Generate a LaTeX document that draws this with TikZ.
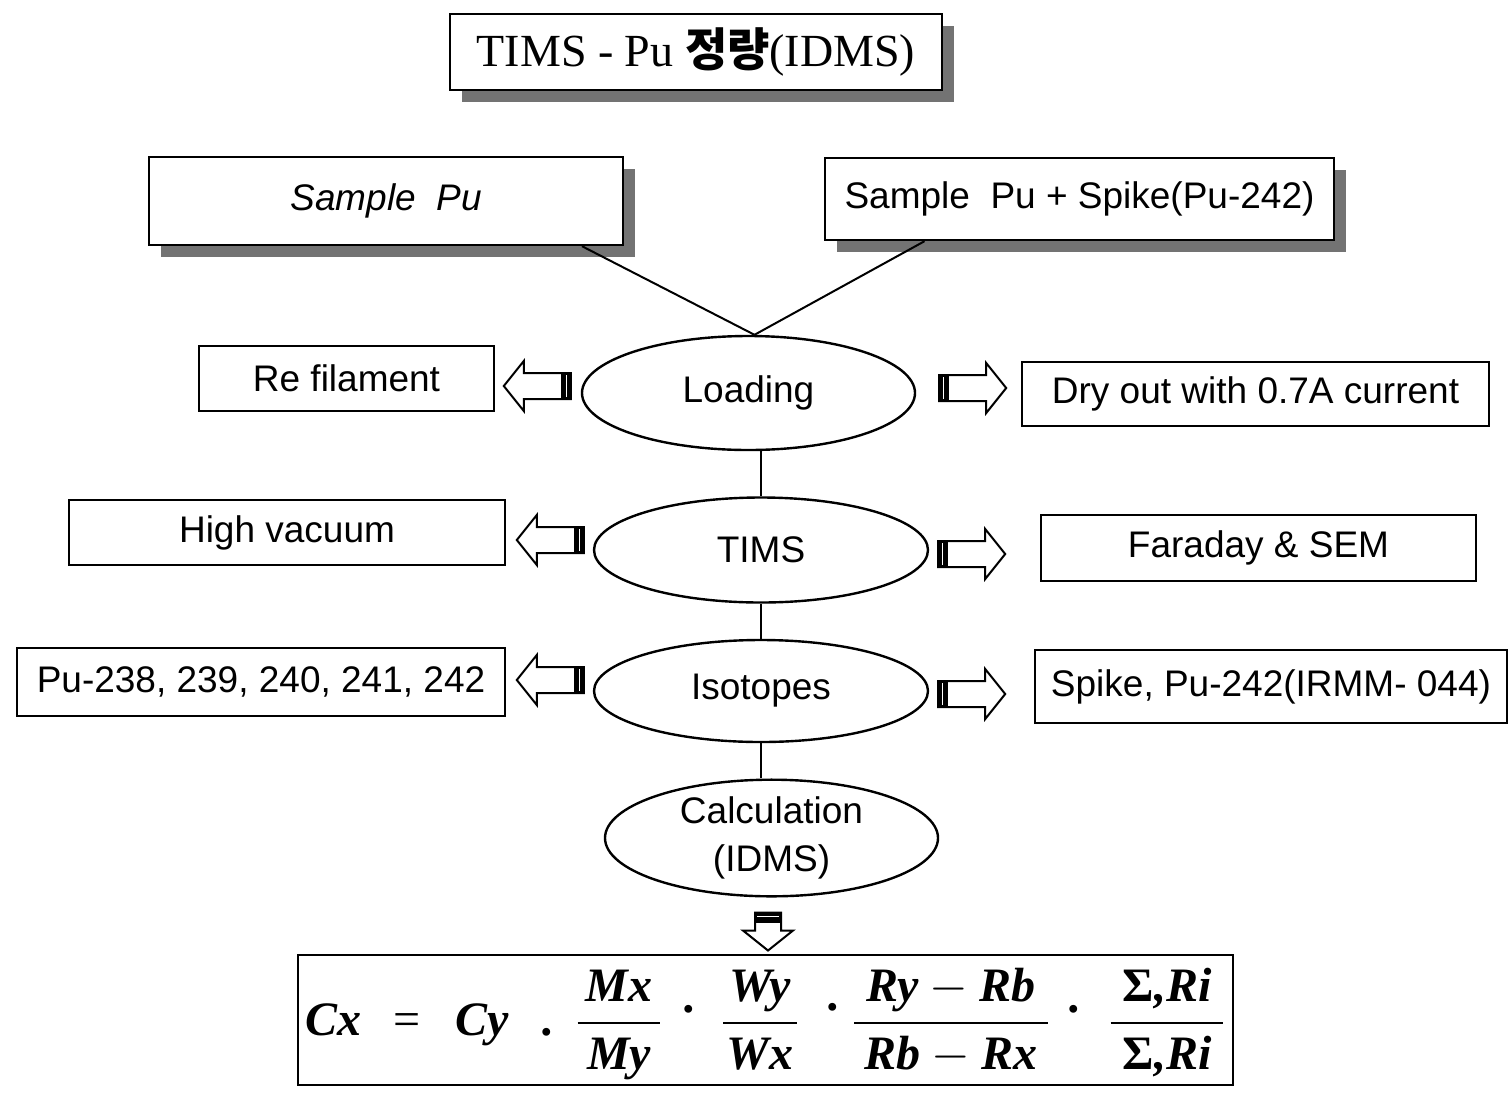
\documentclass[tikz,border=0pt]{standalone}
\usepackage{amsmath}
\usepackage{fontspec}
\setmainfont{Liberation Serif}
\setsansfont{Liberation Sans}
\newfontfamily\korfont{Noto Sans CJK KR}
\usetikzlibrary{shapes.geometric,shadows,calc,positioning}

\newcommand{\fv}[1]{\text{\bfseries\itshape #1}}

\tikzset{
  stepbox/.style={draw, line width=1.2pt, fill=white, inner sep=0pt,
    font=\sffamily\fontsize{18.5}{22}\selectfont},
  shadowbox/.style={stepbox, drop shadow={shadow xshift=6pt, shadow yshift=-6pt,
    fill=black!55, opacity=1}},
  stage/.style={draw, ellipse, line width=1.2pt, inner sep=0pt, align=center,
    font=\sffamily\fontsize{18.5}{24}\selectfont},
  link/.style={line width=1pt},
  formula/.style={inner sep=0pt, font=\rmfamily\bfseries\itshape\fontsize{24}{28}\selectfont},
  pics/barrow/.style={code={
    \draw[line width=1pt, fill=white] (0,-13) -- (#1-20,-13) -- (#1-20,-25) -- (#1,0)
      -- (#1-20,25) -- (#1-20,13) -- (0,13) -- cycle;
    \fill (0,-13) rectangle (10,13);
    \draw[white, line width=0.6pt] (4,-11) -- (4,11);
  }},
  pics/barrow/.default=67
}

\begin{document}
\begin{tikzpicture}[x=0.5pt, y=-0.5pt]
  \useasboundingbox (0,0) rectangle (1509,1098);

  % title and samples
  \node[shadowbox, minimum width=246pt, minimum height=38pt,
        font=\rmfamily\fontsize{23}{26}\selectfont] (title) at (696,52)
        {TIMS - Pu {\korfont\bfseries 정량}(IDMS)};
  \node[shadowbox, minimum width=237pt, minimum height=44pt] (samplepu) at (386,201)
        {\itshape Sample\ \ Pu};
  \node[shadowbox, minimum width=254.5pt, minimum height=41pt] (spikesample) at (1079.5,199)
        {Sample\ \ Pu + Spike(Pu-242)};

  % stages
  \node[stage, minimum width=166.5pt, minimum height=57pt] (loading) at (748.5,393) {Loading};
  \node[stage, minimum width=167pt, minimum height=52.5pt] (tims) at (761,550) {TIMS};
  \node[stage, minimum width=167pt, minimum height=51pt] (isotopes) at (761,691) {Isotopes};
  \node[stage, minimum width=166.5pt, minimum height=55pt] (calc) at (771.5,838)
        {Calculation\\(IDMS)};

  % side boxes
  \node[stepbox, minimum width=147.5pt, minimum height=32.5pt] (refil) at (346.5,378.5) {Re filament};
  \node[stepbox, minimum width=233.5pt, minimum height=32pt] (dryout) at (1255.5,394) {Dry out with 0.7A current};
  \node[stepbox, minimum width=218pt, minimum height=32.5pt] (vacuum) at (287,532.5) {High vacuum};
  \node[stepbox, minimum width=217.5pt, minimum height=33pt] (faraday) at (1258.5,548) {Faraday \& SEM};
  \node[stepbox, minimum width=244pt, minimum height=34pt] (pulist) at (261,682) {Pu-238, 239, 240, 241, 242};
  \node[stepbox, minimum width=236pt, minimum height=36.5pt] (spike) at (1271,686.5) {Spike, Pu-242(IRMM- 044)};

  % links
  \draw[link] ($(samplepu.south)+(196,0)$) -- ($(loading.north)+(6,0)$);
  \draw[link] ($(spikesample.south)+(-155,0)$) -- ($(loading.north)+(6,0)$);
  \draw[link] (tims.north) -- (tims.north |- loading.south);
  \draw[link] (isotopes.north) -- (tims.south);
  \draw[link] (isotopes.south) -- (isotopes.south |- calc.north);

  % block arrows
  \pic[rotate=180] at ($(loading.west)+(-10,-7)$) {barrow};
  \pic at ($(loading.east)+(23,-5)$) {barrow};
  \pic[rotate=180] at ($(tims.west)+(-9,-10)$) {barrow};
  \pic at ($(tims.east)+(9,4)$) {barrow};
  \pic[rotate=180] at ($(isotopes.west)+(-9,-11)$) {barrow};
  \pic at ($(isotopes.east)+(9,3)$) {barrow};
  \pic[rotate=-90] at ($(calc.south)+(-3.5,15)$) {barrow=38};

  % formula
  \node[draw, line width=1.2pt, minimum width=467.5pt, minimum height=65pt] (fbox) at (765.5,1020) {};
  \node[formula, anchor=base west] (cx) at (305,1035) {Cx};
  \node[formula, anchor=base west, font=\rmfamily\fontsize{24}{28}\selectfont] (eq) at (393,1035) {=};
  \node[formula, anchor=base west] (cy) at (455,1035) {Cy};
  \node[formula, anchor=base] (dot1) at (548,1035) {.};
  \node[formula, anchor=base] (fmx) at (619,1035) {$\dfrac{\hspace{4pt}\fv{Mx}\hspace{4pt}}{\fv{My}}$};
  \node[formula, anchor=base] (dot2) at (690,1012) {.};
  \node[formula, anchor=base] (fwy) at (760,1035) {$\dfrac{\hspace{3pt}\fv{Wy}\hspace{3pt}}{\fv{Wx}}$};
  \node[formula, anchor=base] (dot3) at (834,1010) {.};
  \node[formula, anchor=base] (fry) at (951,1035) {$\dfrac{\hspace{6pt}\fv{Ry} - \fv{Rb}\hspace{6pt}}{\fv{Rb} - \fv{Rx}}$};
  \node[formula, anchor=base] (dot4) at (1075,1012) {.};
  \node[formula, anchor=base] (fsum) at (1167,1035) {$\dfrac{\hspace{6pt}\fv{{\upshape Σ},Ri}\hspace{6pt}}{\fv{{\upshape Σ},Ri}}$};
\end{tikzpicture}
\end{document}
